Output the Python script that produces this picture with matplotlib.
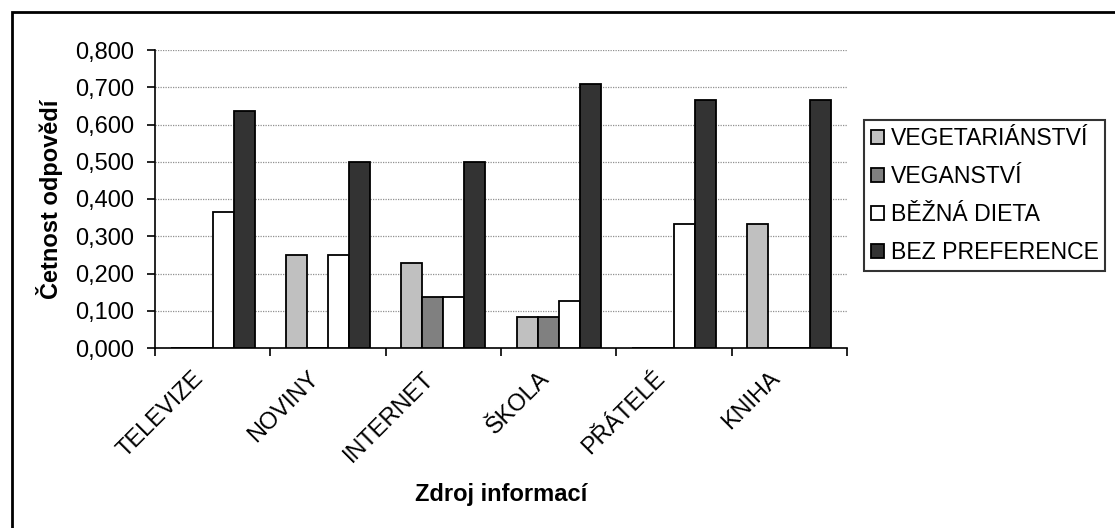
import matplotlib
matplotlib.use("Agg")
import matplotlib.pyplot as plt
import matplotlib.transforms as mtransforms
import numpy as np
from matplotlib.patches import Rectangle

plt.rcParams["font.family"] = ["Liberation Sans", "DejaVu Sans"]

kategorie = ["TELEVIZE", "NOVINY", "INTERNET", "ŠKOLA", "PŘÁTELÉ", "KNIHA"]
serie = ["VEGETARIÁNSTVÍ", "VEGANSTVÍ", "BĚŽNÁ DIETA", "BEZ PREFERENCE"]
vegetarianstvi = [0.0, 0.250, 0.227, 0.083, 0.0, 0.333]
veganstvi = [0.0, 0.0, 0.136, 0.083, 0.0, 0.0]
bezna_dieta = [0.364, 0.250, 0.136, 0.125, 0.333, 0.0]
bez_preference = [0.636, 0.500, 0.500, 0.708, 0.667, 0.667]
barvy = ["#C0C0C0", "#808080", "#FFFFFF", "#333333"]
y_ticks = [0.0, 0.1, 0.2, 0.3, 0.4, 0.5, 0.6, 0.7, 0.8]

hodnoty = [vegetarianstvi, veganstvi, bezna_dieta, bez_preference]
FS = 17

fig = plt.figure(figsize=(11.15, 5.28), dpi=100)
ax = fig.add_axes([155 / 1115, 1 - 348 / 528, (847 - 155) / 1115, (348 - 50) / 528])

x = np.arange(len(kategorie)) + 0.5
sirka = 0.182
for i, (data, nazev, barva) in enumerate(zip(hodnoty, serie, barvy)):
    ax.bar(x + (i - 1.5) * sirka, data, width=sirka, color=barva,
           edgecolor="black", linewidth=1.3, label=nazev, zorder=3)

ax.set_xlim(0, len(kategorie))
ax.set_ylim(0, 0.8)
ax.set_yticks(y_ticks)
ax.set_yticklabels([f"{v:.3f}".replace(".", ",") for v in y_ticks], fontsize=FS)

ax.set_xticks(np.arange(len(kategorie) + 1))
ax.set_xticklabels([])
ax.set_xticks(x, minor=True)
ax.set_xticklabels(kategorie, minor=True, rotation=45, ha="right", va="top",
                   rotation_mode="anchor", fontsize=FS)
ax.tick_params(axis="x", which="minor", length=0, pad=14)
ax.tick_params(axis="x", which="major", direction="out", length=6, width=1.2)
ax.tick_params(axis="y", direction="out", length=6, width=1.2, pad=9)

posun = mtransforms.ScaledTranslation(-20 / 100, 0, fig.dpi_scale_trans)
for lab in ax.get_xticklabels(minor=True):
    lab.set_transform(lab.get_transform() + posun)

for s in ["top", "right"]:
    ax.spines[s].set_visible(False)
for s in ["left", "bottom"]:
    ax.spines[s].set_linewidth(1.2)

ax.yaxis.grid(True, color="#909090", linestyle=(0, (1, 1)), linewidth=0.9, zorder=0)
ax.set_axisbelow(True)

ax.set_ylabel("Četnost odpovědí", fontsize=FS, fontweight="bold", labelpad=9)
fig.text(0.5 * (155 + 847) / 1115, 1 - 495 / 528, "Zdroj informací",
         fontsize=FS, fontweight="bold", ha="center", va="center")

leg = fig.legend(loc="upper left", bbox_to_anchor=(864 / 1115, 1 - 120 / 528),
                 fontsize=16.6, frameon=True, fancybox=False, handlelength=0.55,
                 handleheight=0.55, handletextpad=0.3, labelspacing=0.65,
                 borderpad=0.3, borderaxespad=0)
leg.get_frame().set_edgecolor("black")
leg.get_frame().set_linewidth(1.5)

# ramecek kolem grafu
fig.patches.append(Rectangle((12 / 1115, -0.1), 1.2, 1 - 12 / 528 + 0.1,
                             transform=fig.transFigure, fill=False,
                             edgecolor="black", linewidth=2))

fig.savefig("out.png", dpi=100)
